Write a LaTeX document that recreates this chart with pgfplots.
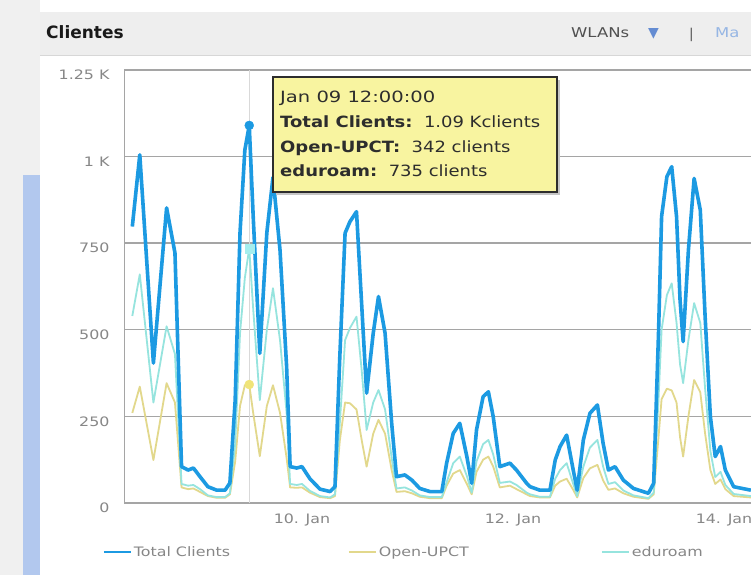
\documentclass[border=0pt]{standalone}
\usepackage{fontspec}
\setmainfont{DejaVu Sans}
\usepackage{graphicx}
\usepackage{pgfplots}
\pgfplotsset{compat=1.18}
\definecolor{totc}{RGB}{28,154,226}
\definecolor{educ}{RGB}{150,228,222}
\definecolor{openc}{RGB}{226,216,140}
\definecolor{gridc}{RGB}{165,165,165}
\definecolor{labc}{RGB}{135,135,135}
\definecolor{tipbg}{RGB}{248,244,160}
\definecolor{tiptx}{RGB}{45,45,45}
\definecolor{leftbg}{RGB}{240,240,240}
\definecolor{stripc}{RGB}{178,200,238}
\definecolor{headbg}{RGB}{238,238,238}
\definecolor{headln}{RGB}{215,215,215}
\definecolor{titc}{RGB}{25,25,25}
\definecolor{headtx}{RGB}{80,80,80}
\definecolor{arrowc}{RGB}{100,140,210}
\definecolor{linkc}{RGB}{150,182,228}
\definecolor{edumk}{RGB}{165,238,238}
\definecolor{openmk}{RGB}{240,228,120}
\newcommand\wide[1]{\scalebox{1.22}[1]{#1}}
\begin{document}
\begin{tikzpicture}[x=1pt,y=1pt]
\useasboundingbox (0,0) rectangle (751,575);
\fill[white] (0,0) rectangle (751,575);
\fill[leftbg] (0,0) rectangle (40,575);
\fill[stripc] (23,0) rectangle (40,400);
\fill[headbg] (40,520) rectangle (751,563);
\draw[headln] (40,520) -- (751,520);
\node[anchor=base west, inner sep=0, font=\bfseries\fontsize{17}{20}\selectfont, text=titc] at (46,536) {Clientes};
\node[anchor=base west, inner sep=0, font=\fontsize{13.5}{16}\selectfont, text=headtx] at (571,537) {\wide{WLANs}};
\node[anchor=base west, inner sep=0, font=\fontsize{14}{16}\selectfont, text=arrowc] at (648,537) {▼};
\node[anchor=base west, inner sep=0, font=\fontsize{13.5}{16}\selectfont, text=headtx] at (689,536) {|};
\node[anchor=base west, inner sep=0, font=\fontsize{13.5}{16}\selectfont, text=linkc] at (715,537) {\wide{Ma}};
\begin{axis}[
  at={(124pt,72pt)}, anchor=south west,
  scale only axis, width=627pt, height=433pt,
  xmin=-40.49, xmax=102.14, ymin=0, ymax=1250,
  axis line style={draw=none},
  ytick={0,250,500,750,1000,1250},
  yticklabels={\wide{0},\wide{250},\wide{500},\wide{750},\wide{1 K},\wide{1.25 K}},
  xtick={0,48,96},
  xticklabels={\wide{10. Jan},\wide{12. Jan},\wide{14. Jan}},
  ymajorgrids, grid style={gridc, line width=1.4pt},
  major tick length=0pt,
  tick label style={font=\fontsize{13}{15}\selectfont, text=labc},
  yticklabel style={xshift=-11pt, yshift=-5pt},
  xticklabel style={yshift=-7pt},
  legend columns=3,
  legend style={at={(-0.034,-0.113)}, anchor=west, draw=none, fill=none, inner sep=0pt,
    font=\fontsize{13}{15}\selectfont, text=labc, nodes={inner sep=2pt}, column sep=0pt},
  legend cell align=left,
  legend image code/.code={\draw[#1] (0pt,0pt) -- (27pt,0pt);},
]
\addlegendimage{totc, line width=2pt}
\addlegendentry{\makebox[212pt][l]{\wide{Total Clients}}}
\addlegendimage{openc, line width=2pt}
\addlegendentry{\makebox[220pt][l]{\wide{Open-UPCT}}}
\addlegendimage{educ, line width=2pt}
\addlegendentry{\wide{eduroam}}
\draw[gridc, line width=1pt] (rel axis cs:0,0) -- (rel axis cs:0,1);
\draw[gray!30, line width=1pt] (axis cs:-12,0) -- (axis cs:-12,1250);
\addplot[forget plot, openc, line width=1.8pt, line join=round] coordinates {
(-38.6,260) (-36.9,336) (-33.8,124) (-30.8,346) (-28.9,290) (-27.4,45) (-25.9,40) (-24.7,42) (-23.2,32) (-21.4,20) (-19.4,15) (-17.5,15) (-16.4,25) (-15.2,120) (-14.1,280) (-13,340) (-12,342) (-11.1,260) (-9.6,135) (-8,280) (-6.6,340) (-5,260) (-3.5,130) (-2.7,45) (-1.2,44) (0,45) (1.8,30) (4.1,17) (6.4,14) (7.5,20) (8.6,180) (9.8,290) (10.9,288) (12.4,270) (13.6,180) (14.7,105) (16.2,200) (17.4,240) (18.9,200) (20.4,95) (21.5,32) (23.4,34) (25,28) (26.8,18) (29.1,14) (31.8,14) (32.9,50) (34.4,85) (35.9,95) (37.5,55) (38.6,25) (39.7,90) (41.2,125) (42.4,134) (43.5,105) (45,45) (47.3,50) (48.8,40) (51.1,25) (51.9,20) (54.1,16) (56.4,16) (57.6,50) (58.7,62) (60.2,70) (61.7,38) (62.6,16) (64,72) (65.5,100) (67.2,110) (68.5,65) (69.7,38) (71.2,42) (73.1,28) (75.4,18) (78.8,12) (80,25) (81.1,190) (81.8,300) (83,330) (84.1,325) (85.2,290) (86,190) (86.7,134) (87.9,250) (89.2,355) (90.6,320) (91.7,200) (92.9,95) (94,55) (95.2,68) (96.3,40) (98.2,20) (102.1,16)
};
\addplot[forget plot, educ, line width=1.8pt, line join=round] coordinates {
(-38.6,540) (-36.9,660) (-33.8,290) (-30.8,510) (-28.9,430) (-27.4,55) (-25.9,50) (-24.7,52) (-23.2,40) (-21.4,22) (-19.4,17) (-17.5,17) (-16.4,28) (-15.2,170) (-14.1,490) (-13,650) (-12,735) (-11.1,560) (-9.6,297) (-8,500) (-6.6,620) (-5,470) (-3.5,260) (-2.7,55) (-1.2,52) (0,55) (1.8,35) (4.1,20) (6.4,16) (7.5,25) (8.6,230) (9.8,470) (10.9,505) (12.4,538) (13.6,380) (14.7,211) (16.2,290) (17.4,326) (18.9,270) (20.4,130) (21.5,42) (23.4,45) (25,36) (26.8,22) (29.1,17) (31.8,17) (32.9,60) (34.4,115) (35.9,134) (37.5,78) (38.6,30) (39.7,120) (41.2,170) (42.4,182) (43.5,140) (45,58) (47.3,62) (48.8,52) (51.1,30) (51.9,25) (54.1,18) (56.4,18) (57.6,70) (58.7,95) (60.2,115) (61.7,55) (62.6,20) (64,105) (65.5,160) (67.2,182) (68.5,105) (69.7,55) (71.2,60) (73.1,36) (75.4,22) (78.8,14) (80,30) (81.1,300) (81.8,500) (83,600) (84.1,634) (85.2,520) (86,400) (86.7,346) (87.9,470) (89.2,577) (90.6,520) (91.7,330) (92.9,150) (94,75) (95.2,90) (96.3,52) (98.2,26) (102.1,20)
};
\addplot[forget plot, totc, line width=3.6pt, line join=round] coordinates {
(-38.6,798) (-36.9,1005) (-33.8,404) (-30.8,852) (-28.9,722) (-27.4,105) (-25.9,95) (-24.7,101) (-23.2,76) (-21.4,47) (-19.4,37) (-17.5,37) (-16.4,58) (-15.2,297) (-14.1,780) (-13,1019) (-12,1090) (-11.1,827) (-9.6,432) (-8,780) (-6.6,940) (-5,730) (-3.5,394) (-2.7,105) (-1.2,101) (0,105) (1.8,70) (4.1,40) (6.4,33) (7.5,47) (8.6,422) (9.8,779) (10.9,812) (12.4,841) (13.6,567) (14.7,317) (16.2,490) (17.4,596) (18.9,490) (20.4,230) (21.5,76) (23.4,81) (25,66) (26.8,42) (29.1,33) (31.8,33) (32.9,115) (34.4,201) (35.9,230) (37.5,134) (38.6,57) (39.7,211) (41.2,307) (42.4,321) (43.5,249) (45,105) (47.3,115) (48.8,95) (51.1,57) (51.9,47) (54.1,37) (56.4,37) (57.6,124) (58.7,163) (60.2,196) (61.7,95) (62.6,37) (64,182) (65.5,259) (67.2,283) (68.5,172) (69.7,95) (71.2,105) (73.1,66) (75.4,42) (78.8,28) (80,57) (81.1,490) (81.8,827) (83,942) (84.1,971) (85.2,827) (86,586) (86.7,466) (87.9,730) (89.2,937) (90.6,846) (91.7,538) (92.9,249) (94,134) (95.2,163) (96.3,95) (98.2,47) (102.1,37)
};
\addplot[forget plot, only marks, mark=*, mark size=4.5pt, totc] coordinates {(-12,1090)};
\addplot[forget plot, only marks, mark=square*, mark size=4.5pt, edumk] coordinates {(-12,735)};
\addplot[forget plot, only marks, mark=*, mark size=4.5pt, openmk] coordinates {(-12,342)};
\end{axis}
\fill[gray!45] (276,380) rectangle (560,495);
\filldraw[fill=tipbg, draw=tiptx, line width=1.8pt] (273,498) rectangle (557,383);
\begin{scope}[every node/.style={anchor=base west, inner sep=0, text=tiptx, font=\fontsize{15.5}{18}\selectfont}]
\node at (280,472) {\scalebox{1.26}[1]{Jan 09 12:00:00}};
\node at (280,447) {\scalebox{1.16}[1]{\textbf{Total Clients:}\ \ 1.09 Kclients}};
\node at (280,422) {\scalebox{1.16}[1]{\textbf{Open-UPCT:}\ \ 342 clients}};
\node at (280,398) {\scalebox{1.16}[1]{\textbf{eduroam:}\ \ 735 clients}};
\end{scope}
\end{tikzpicture}
\end{document}
